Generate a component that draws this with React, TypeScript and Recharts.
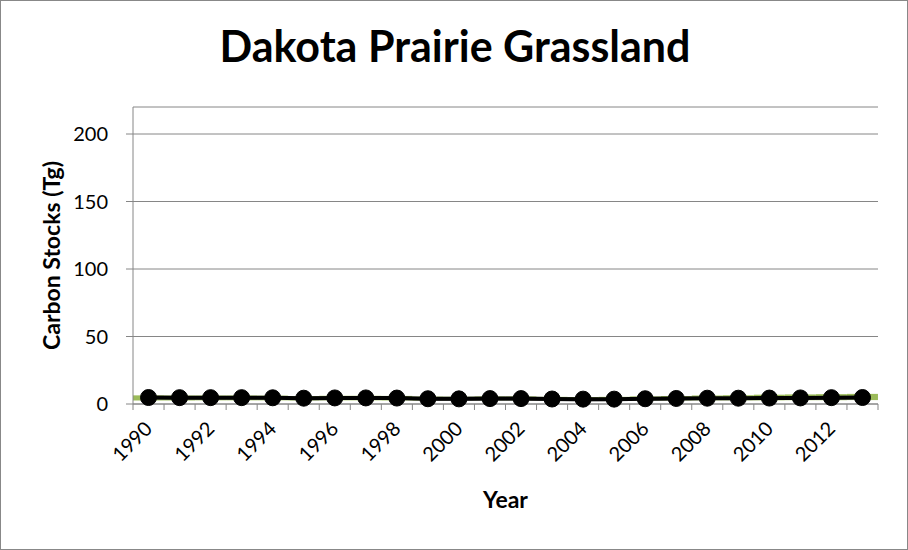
import React from "react";
import {
    ComposedChart,
    Bar,
    Line,
    XAxis,
    YAxis,
    CartesianGrid,
} from "recharts";

// values (Tg)
const years = [
    "1990", "1991", "1992", "1993", "1994", "1995", "1996", "1997",
    "1998", "1999", "2000", "2001", "2002", "2003", "2004", "2005",
    "2006", "2007", "2008", "2009", "2010", "2011", "2012", "2013",
];
const stockMean = [
    4.8, 4.7, 4.7, 4.7, 4.6, 4.3, 4.5, 4.5, 4.4, 3.9, 3.8, 4.0,
    4.0, 3.7, 3.6, 3.6, 3.9, 4.1, 4.3, 4.3, 4.4, 4.5, 4.7, 4.8,
];
const stockAlt = [
    4.6, 4.5, 4.5, 4.5, 4.2, 3.8, 4.0, 4.1, 4.0, 3.5, 3.4, 3.6,
    3.6, 3.3, 3.2, 3.3, 3.5, 3.8, 4.0, 4.1, 4.2, 4.3, 4.5, 4.6,
];
const bandLow = [
    2.6, 2.6, 2.7, 2.7, 2.7, 2.6, 2.7, 2.7, 2.6, 2.4, 2.4, 2.5,
    2.5, 2.4, 2.3, 2.3, 2.5, 2.6, 2.7, 2.7, 2.7, 2.8, 2.8, 2.9,
];
const bandHigh = [
    6.4, 6.3, 6.3, 6.3, 6.2, 5.9, 6.1, 6.1, 6.0, 5.5, 5.4, 5.6,
    5.6, 5.3, 5.2, 5.3, 5.6, 5.9, 6.3, 6.5, 6.9, 7.1, 7.3, 7.5,
];
const yTicks = [0, 50, 100, 150, 200];

const data = years.map((year, i) => ({
    year,
    mean: stockMean[i],
    alt: stockAlt[i],
    band: [bandLow[i], bandHigh[i]],
}));

const W = 908;
const H = 550;
const MARGIN = { top: 107, right: 30, bottom: 20, left: 0 };
const Y_AXIS_W = 133;
const PLOT_W = W - MARGIN.right - Y_AXIS_W;
const BAND_W = PLOT_W / years.length;
const AXIS_COLOR = "#868686";
const FONT = "Lato, 'Open Sans', sans-serif";

// Excel style: tick marks between categories, labels on every other year
const YearTick = (props: any) => {
    const { x, y, payload, index } = props;
    const left = x - BAND_W / 2;
    const right = x + BAND_W / 2;
    const tx = x + 5;
    const ty = y + 20;
    return (
        <g>
            <line x1={left} x2={left} y1={y - 6} y2={y} stroke={AXIS_COLOR} strokeWidth={1} />
            {index === years.length - 1 && (
                <line x1={right} x2={right} y1={y - 6} y2={y} stroke={AXIS_COLOR} strokeWidth={1} />
            )}
            {index % 2 === 0 && (
                <text
                    x={tx}
                    y={ty}
                    textAnchor="end"
                    transform={`rotate(-45, ${tx}, ${ty})`}
                    fontSize={20}
                    fontFamily={FONT}
                    fill="#000"
                >
                    {payload.value}
                </text>
            )}
        </g>
    );
};

const StockTick = (props: any) => {
    const { x, y, payload } = props;
    return (
        <text x={x} y={y} dy={7} textAnchor="end" fontSize={20} fontFamily={FONT} fill="#000">
            {payload.value}
        </text>
    );
};

export default function App() {
    return (
        <div
            style={{
                position: "absolute",
                left: 0,
                top: 0,
                width: W,
                height: H,
                background: "#fff",
                border: "1px solid #888",
                boxSizing: "border-box",
                fontFamily: FONT,
            }}
        >
            <div
                style={{
                    position: "absolute",
                    left: 0,
                    top: 19,
                    width: W,
                    textAlign: "center",
                    fontWeight: 700,
                    fontSize: 43,
                    color: "#000",
                }}
            >
                Dakota Prairie Grassland
            </div>
            <div style={{ position: "absolute", left: -1, top: -1 }}>
                <ComposedChart
                    width={W}
                    height={H}
                    data={data}
                    margin={MARGIN}
                    barCategoryGap={0}
                    barGap={0}
                >
                    <CartesianGrid vertical={false} stroke={AXIS_COLOR} />
                    <XAxis
                        dataKey="year"
                        type="category"
                        interval={0}
                        tickLine={false}
                        tickSize={6}
                        tickMargin={0}
                        stroke={AXIS_COLOR}
                        height={H - MARGIN.top - MARGIN.bottom - 297}
                        tick={(p: any) => <YearTick {...p} />}
                        label={{
                            value: "Year",
                            position: "insideBottom",
                            offset: 22,
                            style: { fontWeight: 700, fontSize: 23, fill: "#000", fontFamily: FONT },
                        }}
                    />
                    <YAxis
                        width={Y_AXIS_W}
                        domain={[0, 220]}
                        ticks={yTicks}
                        tickSize={7}
                        tickMargin={18}
                        stroke={AXIS_COLOR}
                        tick={(p: any) => <StockTick {...p} />}
                        label={{
                            value: "Carbon Stocks (Tg)",
                            angle: -90,
                            position: "insideLeft",
                            offset: 52,
                            style: { textAnchor: "middle", fontWeight: 700, fontSize: 23, fill: "#000", fontFamily: FONT },
                        }}
                    />
                    <Bar dataKey="band" fill="#9BBB59" isAnimationActive={false} />
                    <Line
                        dataKey="alt"
                        stroke="#7f7f7f"
                        strokeWidth={3}
                        dot={false}
                        isAnimationActive={false}
                    />
                    <Line
                        dataKey="mean"
                        stroke="#000"
                        strokeWidth={4}
                        dot={{ r: 8, fill: "#000", stroke: "#000", strokeWidth: 1 }}
                        isAnimationActive={false}
                    />
                </ComposedChart>
            </div>
        </div>
    );
}
